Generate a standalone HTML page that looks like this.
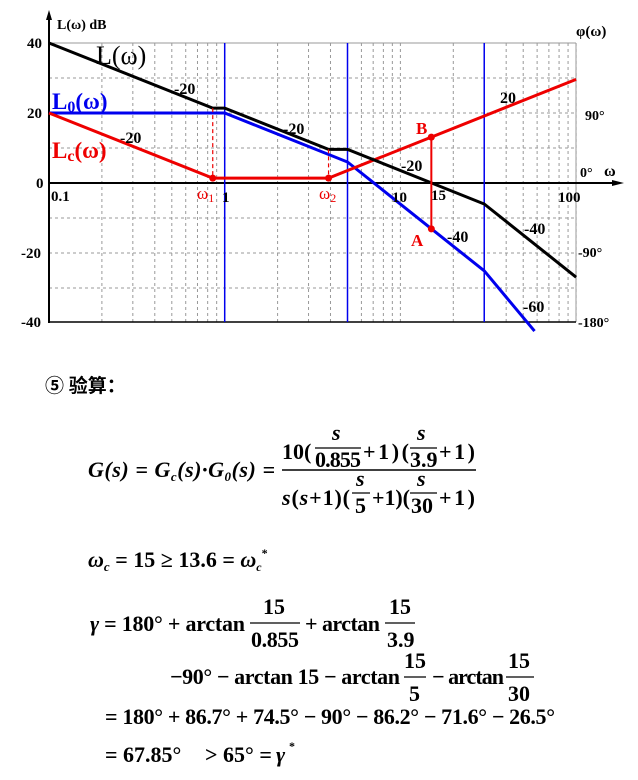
<!DOCTYPE html>
<html><head><meta charset="utf-8"><style>
html,body{margin:0;padding:0;background:#fff;width:638px;height:780px;overflow:hidden}
svg{display:block}
.m{font-family:"Liberation Serif",serif;font-weight:bold;font-size:22px;fill:#000}
.t{font-family:"Liberation Serif",serif;font-weight:bold;font-size:14px;fill:#000}
.sl{font-family:"Liberation Serif",serif;font-weight:bold;font-size:16px;fill:#000}
</style></head><body>
<svg id="s" width="638" height="780" viewBox="0 0 638 780">
<g id="grid"></g>
<g id="axes">
<line x1="49" y1="43" x2="576" y2="43" stroke="#999" stroke-width="1"/>
<line x1="576" y1="43" x2="576" y2="322" stroke="#999" stroke-width="1"/>
<line x1="49" y1="322" x2="576" y2="322" stroke="#000" stroke-width="1.5"/>
<line x1="49" y1="15" x2="49" y2="323" stroke="#000" stroke-width="2"/>
<polygon points="49,10 46,20 52,20" fill="#000"/>
<line x1="49" y1="183" x2="618" y2="183" stroke="#000" stroke-width="2"/>
<polygon points="624,183 612,180 612,186" fill="#000"/>
</g>
<g id="marks"></g>
<g id="labels">
<text class="t" x="57" y="29">L(ω)  dB</text>
<text class="t" x="27" y="48" style="font-size:15px">40</text>
<text class="t" x="27" y="118" style="font-size:15px">20</text>
<text class="t" x="36" y="188" style="font-size:15px">0</text>
<text class="t" x="21" y="258" style="font-size:15px">-20</text>
<text class="t" x="21" y="327" style="font-size:15px">-40</text>
<text class="t" x="51" y="201" style="font-size:15px">0.1</text>
<text class="t" x="222" y="202" style="font-size:15px">1</text>
<text class="t" x="392" y="202" style="font-size:15px">10</text>
<text class="t" x="431" y="200" style="font-size:15px">15</text>
<text class="t" x="558" y="202" style="font-size:15px">100</text>
<text class="t" x="576" y="36" style="font-size:15px">φ(ω)</text>
<text class="t" x="585" y="120">90°</text>
<text class="t" x="580" y="177">0°</text>
<text class="t" x="604" y="176" style="font-size:16px">ω</text>
<text class="t" x="578" y="257">-90°</text>
<text class="t" x="578" y="327">-180°</text>
<text x="96" y="64" font-family="Liberation Serif" font-size="26" fill="#000">L(ω)</text>
<text x="52" y="109" font-family="Liberation Serif" font-weight="bold" font-size="23" fill="#0000ee">L<tspan font-size="16" dy="3">0</tspan><tspan dy="-3">(ω)</tspan></text>
<text x="52" y="158" font-family="Liberation Serif" font-weight="bold" font-size="23" fill="#ee0000">L<tspan font-size="16" dy="3">c</tspan><tspan dy="-3">(ω)</tspan></text>
<text class="sl" x="174" y="94">-20</text>
<text class="sl" x="120" y="143">-20</text>
<text class="sl" x="283" y="134">-20</text>
<text class="sl" x="401" y="171">-20</text>
<text class="sl" x="500" y="103">20</text>
<text class="sl" x="447" y="242">-40</text>
<text class="sl" x="524" y="234">-40</text>
<text class="sl" x="523" y="312">-60</text>
<text x="416" y="134" font-family="Liberation Serif" font-weight="bold" font-size="17" fill="#ee0000">B</text>
<text x="411" y="246" font-family="Liberation Serif" font-weight="bold" font-size="17" fill="#ee0000">A</text>
<text x="197" y="199" font-family="Liberation Serif" font-size="17" fill="#ee0000">ω<tspan font-size="12" dy="3">1</tspan></text>
<text x="319" y="199" font-family="Liberation Serif" font-size="17" fill="#ee0000">ω<tspan font-size="12" dy="3">2</tspan></text>
</g>

<g>
<text x="45" y="392" font-family="Liberation Serif,'Noto Sans CJK SC',sans-serif" font-weight="bold" font-size="19">⑤ 验算：</text>
<text class="m" x="88" y="477" textLength="187" font-style="italic">G(s) = G<tspan font-size="13" dy="4">c</tspan><tspan dy="-4">(s)·G</tspan><tspan font-size="13" dy="4">0</tspan><tspan dy="-4">(s) =</tspan></text>
<line x1="282" y1="470" x2="476" y2="470" stroke="#000" stroke-width="1.5"/>
<text class="m" x="282" y="459">10(</text>
<text class="m" x="332" y="440" font-style="italic">s</text>
<line x1="315" y1="448" x2="361" y2="448" stroke="#000" stroke-width="1.3"/>
<text class="m" x="315" y="467" textLength="46">0.855</text>
<text class="m" x="363" y="459" textLength="46">+1)(</text>
<text class="m" x="417" y="440" font-style="italic">s</text>
<line x1="410" y1="448" x2="437" y2="448" stroke="#000" stroke-width="1.3"/>
<text class="m" x="410" y="467">3.9</text>
<text class="m" x="439" y="459" textLength="36">+1)</text>
<text class="m" x="282" y="505" textLength="68"><tspan font-style="italic">s</tspan>(<tspan font-style="italic">s</tspan>+1)(</text>
<text class="m" x="356" y="486" font-style="italic">s</text>
<line x1="352" y1="493" x2="370" y2="493" stroke="#000" stroke-width="1.3"/>
<text class="m" x="355" y="513">5</text>
<text class="m" x="372" y="505" textLength="38">+1)(</text>
<text class="m" x="417" y="486" font-style="italic">s</text>
<line x1="410" y1="493" x2="437" y2="493" stroke="#000" stroke-width="1.3"/>
<text class="m" x="411" y="513">30</text>
<text class="m" x="439" y="505" textLength="36">+1)</text>

<text class="m" x="88" y="567"><tspan font-style="italic">ω</tspan><tspan font-size="13" dy="4" font-style="italic">c</tspan><tspan dy="-4"> = 15 ≥ 13.6 = </tspan><tspan font-style="italic">ω</tspan><tspan font-size="12" dy="4" font-style="italic">c</tspan><tspan font-size="12" dy="-14">*</tspan></text>

<text class="m" x="90" y="631" textLength="155"><tspan font-style="italic">γ</tspan> = 180° + arctan</text>
<text class="m" x="263" y="614">15</text>
<line x1="250" y1="623" x2="300" y2="623" stroke="#000" stroke-width="1.3"/>
<text class="m" x="251" y="647" textLength="48">0.855</text>
<text class="m" x="305" y="631" textLength="75">+ arctan</text>
<text class="m" x="389" y="614">15</text>
<line x1="385" y1="623" x2="415" y2="623" stroke="#000" stroke-width="1.3"/>
<text class="m" x="387" y="647">3.9</text>

<text class="m" x="170" y="684" textLength="230">−90° − arctan 15 − arctan</text>
<text class="m" x="404" y="668">15</text>
<line x1="404" y1="677" x2="426" y2="677" stroke="#000" stroke-width="1.3"/>
<text class="m" x="409" y="701">5</text>
<text class="m" x="432" y="684" textLength="72">− arctan</text>
<text class="m" x="508" y="668">15</text>
<line x1="506" y1="677" x2="534" y2="677" stroke="#000" stroke-width="1.3"/>
<text class="m" x="508" y="701">30</text>

<text class="m" x="105" y="724" textLength="450">= 180° + 86.7° + 74.5° − 90° − 86.2° − 71.6° − 26.5°</text>
<text class="m" x="105" y="762">= 67.85°</text>
<text class="m" x="205" y="762">&gt; 65° =</text>
<text class="m" x="276" y="762" font-style="italic">γ</text>
<text class="m" x="289" y="750" style="font-size:12px">*</text>
</g>
</svg>
<script>
const svgNS="http://www.w3.org/2000/svg";
// data
const L0_w=[0.1,1,5,30,58];
const L0_db=[20,20,6,-25.1,-42.3];
const L_w=[0.1,0.855,1,3.9,5,30,100];
const L_db=[40,21.4,21.4,9.6,9.6,-6,-26.9];
const Lc_w=[0.1,0.855,3.9,100];
const Lc_db=[20,1.4,1.4,29.6];
const blueMarks=[1,5,30];
const ptA=[15,-13.1];
const ptB=[15,13.1];
const omegaPts=[0.855,3.9];
const omegaDashTop=[21.4,9.6];
const omegaDb=1.4;
const dbGrid=[30,20,10,-10,-20,-30];

const xs=w=>49+175.7*Math.log10(w/0.1);
const ys=d=>183-d*3.5;
const grid=document.getElementById('grid'),marks=document.getElementById('marks');
function mk(tag,attrs,parent){const e=document.createElementNS(svgNS,tag);for(const k in attrs)e.setAttribute(k,attrs[k]);parent.appendChild(e);return e;}
for(let d=0.1;d<100;d*=10){for(let k=2;k<=10;k++){const x=xs(d*k);
 const g=mk('line',{x1:x,y1:43,x2:x,y2:322,stroke:'#999','stroke-width':1,'stroke-dasharray':'3,3'},grid);
 
 }}
dbGrid.forEach(d=>{const g=mk('line',{x1:49,y1:ys(d),x2:576,y2:ys(d),stroke:'#999','stroke-width':1,'stroke-dasharray':'3,3'},grid);
 
 });
blueMarks.forEach(w=>{const l=mk('line',{x1:xs(w),y1:43,x2:xs(w),y2:322,stroke:'#0000ee','stroke-width':1.5},marks);
 
 });
function poly(ws,ds,color,name){const p=mk('polyline',{points:ws.map((w,i)=>xs(w)+','+ys(ds[i])).join(' '),fill:'none',stroke:color,'stroke-width':3},marks);
 
 }
poly(L0_w,L0_db,'#0000ee','series-L0');
poly(Lc_w,Lc_db,'#ee0000','series-Lc');
poly(L_w,L_db,'#000','series-L');
omegaPts.forEach((w,i)=>{const d=mk('line',{x1:xs(w),y1:ys(omegaDashTop[i]),x2:xs(w),y2:ys(omegaDb),stroke:'#ee0000','stroke-width':1.2,'stroke-dasharray':'4,3'},marks);
 
 
 const c=mk('circle',{cx:xs(w),cy:ys(omegaDb),r:3.5,fill:'#ee0000'},marks);
 
 });
const ab=mk('line',{x1:xs(ptA[0]),y1:ys(ptA[1]),x2:xs(ptB[0]),y2:ys(ptB[1]),stroke:'#ee0000','stroke-width':2},marks);


[ptA,ptB].forEach(p=>{const c=mk('circle',{cx:xs(p[0]),cy:ys(p[1]),r:3.5,fill:'#ee0000'},marks);
 
 });
</script>
</body></html>
